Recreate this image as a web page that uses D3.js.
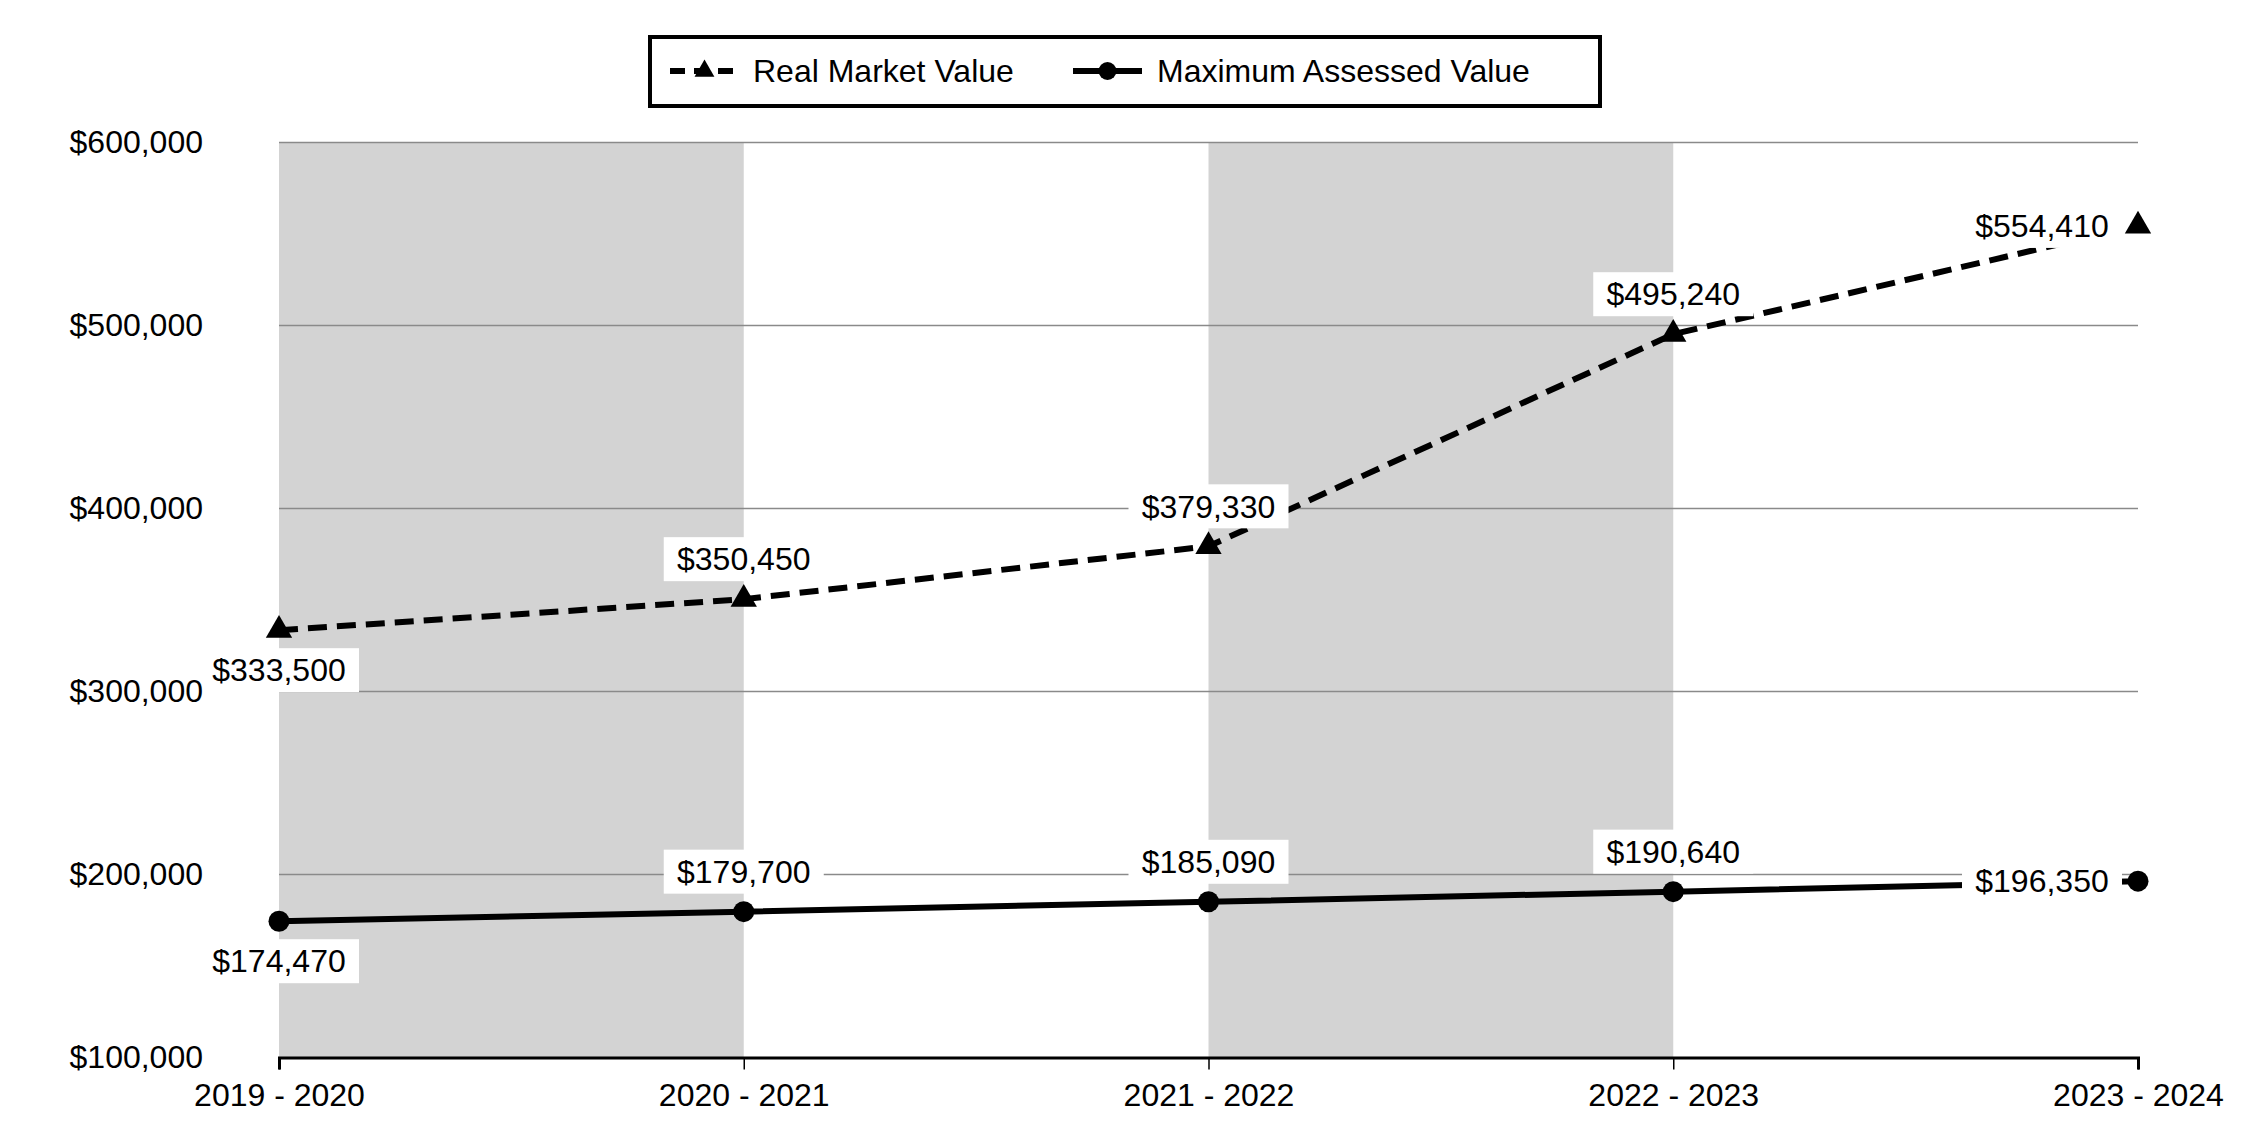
<!DOCTYPE html>
<html><head><meta charset="utf-8">
<script src="https://cdn.jsdelivr.net/npm/d3@7/dist/d3.min.js"></script>
<style>body{margin:0;background:#fff} text{font-family:Arial,"Liberation Sans",sans-serif;fill:#000}</style>
</head><body><svg id="c" width="2250" height="1140"></svg>
<script>
const categories = ["2019 - 2020","2020 - 2021","2021 - 2022","2022 - 2023","2023 - 2024"];
const realMarketValue = [333500,350450,379330,495240,554410];
const maxAssessedValue = [174470,179700,185090,190640,196350];
const yTicks = [100000,200000,300000,400000,500000,600000];
const seriesNames = ["Real Market Value","Maximum Assessed Value"];
const labelPlacement = ["below","above","above","above","left"];
const shadedBands = [[0,1],[2,3]];

const m = {left:279, right:2138, top:142.5, bottom:1057.5};
const svg = d3.select("#c");
const x = d3.scalePoint().domain(categories).range([m.left, m.right]).padding(0);
const y = d3.scaleLinear().domain([100000,600000]).range([m.bottom, m.top]);
const fmt = v => "$" + d3.format(",")(v);
const FS = 32;

// shaded bands
svg.append("g").selectAll("rect").data(shadedBands).join("rect")
  .attr("x", d => x(categories[d[0]]))
  .attr("width", d => x(categories[d[1]]) - x(categories[d[0]]))
  .attr("y", m.top).attr("height", m.bottom - m.top)
  .attr("fill", "#d3d3d3");

// gridlines
svg.append("g").selectAll("line").data(yTicks.filter(t => t > 100000)).join("line")
  .attr("x1", m.left).attr("x2", m.right)
  .attr("y1", d => y(d)).attr("y2", d => y(d))
  .attr("stroke", "#8a8a8a").attr("stroke-width", 1.6);

// x axis
const xa = svg.append("g").attr("transform", `translate(0,${m.bottom})`)
  .call(d3.axisBottom(x).tickSize(12).tickPadding(14));
xa.select(".domain").attr("stroke", "#000").attr("stroke-width", 3);
xa.selectAll(".tick line").attr("stroke", "#000").attr("stroke-width", 1.5);
xa.selectAll("text").attr("font-size", FS).attr("font-family", "Arial, 'Liberation Sans', sans-serif").attr("fill", "#000");

// lines
const line = d3.line().x((d,i) => x(categories[i])).y(d => y(d));
svg.append("path").datum(realMarketValue).attr("d", line)
  .attr("fill", "none").attr("stroke", "#000").attr("stroke-width", 6)
  .attr("stroke-dasharray", "19,10");
svg.append("path").datum(maxAssessedValue).attr("d", line)
  .attr("fill", "none").attr("stroke", "#000").attr("stroke-width", 6);

// markers
svg.append("g").selectAll("path").data(realMarketValue).join("path")
  .attr("transform", (d,i) => `translate(${x(categories[i])},${y(d)})`)
  .attr("d", d3.symbol(d3.symbolTriangle, 300)).attr("fill", "#000");
svg.append("g").selectAll("circle").data(maxAssessedValue).join("circle")
  .attr("cx", (d,i) => x(categories[i])).attr("cy", d => y(d)).attr("r", 10.5).attr("fill", "#000");

// data labels
function labels(values) {
  const g = svg.append("g");
  values.forEach((v,i) => {
    const px = x(categories[i]), py = y(v);
    const pos = labelPlacement[i];
    let cx = px, cy = py;
    if (pos === "above") cy = py - 40;
    else if (pos === "below") cy = py + 40;
    else { cx = px - 29 - 67; cy = py; }
    const bw = 160, bh = 44;
    g.append("rect").attr("x", cx - bw/2).attr("y", cy - bh/2).attr("width", bw).attr("height", bh).attr("fill", "#fff");
    g.append("text").attr("x", cx).attr("y", cy).attr("dy", "0.35em").attr("text-anchor", "middle")
      .attr("font-size", FS).text(fmt(v));
  });
}
labels(realMarketValue);
labels(maxAssessedValue);

// y axis labels (drawn on top)
const ya = svg.append("g").attr("transform", `translate(${m.left},0)`)
  .call(d3.axisLeft(y).tickValues(yTicks).tickFormat(fmt).tickSize(0).tickPadding(76));
ya.select(".domain").remove();
ya.selectAll("text").attr("font-size", FS).attr("font-family", "Arial, 'Liberation Sans', sans-serif").attr("fill", "#000");

// legend
const lg = svg.append("g");
lg.append("rect").attr("x", 650).attr("y", 37).attr("width", 950).attr("height", 69)
  .attr("fill", "#fff").attr("stroke", "#000").attr("stroke-width", 4);
const ly = 71;
lg.append("line").attr("x1", 670).attr("x2", 739).attr("y1", ly).attr("y2", ly)
  .attr("stroke", "#000").attr("stroke-width", 6).attr("stroke-dasharray", "15,9");
lg.append("path").attr("transform", `translate(704.5,${ly})`).attr("d", d3.symbol(d3.symbolTriangle, 170)).attr("fill", "#000");
lg.append("text").attr("x", 753).attr("y", ly).attr("dy", "0.35em").attr("font-size", FS).text(seriesNames[0]);
lg.append("line").attr("x1", 1073).attr("x2", 1142).attr("y1", ly).attr("y2", ly)
  .attr("stroke", "#000").attr("stroke-width", 6);
lg.append("circle").attr("cx", 1107.5).attr("cy", ly).attr("r", 9).attr("fill", "#000");
lg.append("text").attr("x", 1157).attr("y", ly).attr("dy", "0.35em").attr("font-size", FS).text(seriesNames[1]);
</script></body></html>
